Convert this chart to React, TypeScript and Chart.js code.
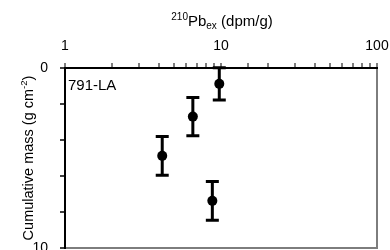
import React, { useEffect, useRef } from 'react';
import { Chart, registerables } from 'chart.js';

Chart.register(...registerables);

// ---- data ----
const pbEx = [9.75, 6.6, 4.2, 8.8];          // 210Pb_ex (dpm/g)
const cumMass = [0.88, 2.7, 4.88, 7.38];     // cumulative mass (g cm^-2)
const massErr = [0.9, 1.06, 1.08, 1.08];     // +/- error on cumulative mass
const xTickLabels = [1, 10, 100];
const yTickLabels = [0, 10];
const sampleLabel = '791-LA';

const FONT = "'Liberation Sans', Arial, sans-serif";

type Seg = { t: string; size: number; dy: number };

function drawSegs(ctx: CanvasRenderingContext2D, segs: Seg[], cx: number, cy: number) {
  let total = 0;
  const widths: number[] = [];
  segs.forEach((s) => {
    ctx.font = `${s.size}px ${FONT}`;
    const w = ctx.measureText(s.t).width;
    widths.push(w);
    total += w;
  });
  let x = cx - total / 2;
  ctx.textAlign = 'left';
  ctx.textBaseline = 'middle';
  segs.forEach((s, i) => {
    ctx.font = `${s.size}px ${FONT}`;
    ctx.fillText(s.t, x, cy + s.dy);
    x += widths[i];
  });
}

// frame + tick marks, positioned through the chart's own scales
const framePlugin = {
  id: 'frame',
  afterDraw(chart: any) {
    const { ctx, chartArea: a } = chart;
    const xs = chart.scales.x;
    const ys = chart.scales.y;
    const L = Math.round(a.left);
    const R = Math.round(a.right);
    const T = Math.round(a.top);
    const B = Math.round(a.bottom);
    ctx.save();
    // grey right / bottom sides
    ctx.fillStyle = '#7d7d7d';
    ctx.fillRect(R - 1, T, 2, B - T + 1);
    ctx.fillRect(L, B - 1, R - L + 1, 2);
    // black top / left axes
    ctx.fillStyle = '#000';
    ctx.fillRect(L - 1, T - 1, R - L + 2, 2);
    ctx.fillRect(L - 1, T - 1, 2, B - T + 2);
    // x tick marks (upward)
    xs.ticks.forEach((t: any) => {
      const px = Math.round(xs.getPixelForValue(t.value));
      ctx.fillRect(px - 0.5, T - 5, 1, 5);
    });
    // y tick marks (leftward)
    ys.ticks.forEach((t: any) => {
      const py = Math.round(ys.getPixelForValue(t.value));
      ctx.fillRect(L - 5, py - 0.75, 5, 1.5);
    });
    ctx.restore();
  },
};

const errorBarPlugin = {
  id: 'errorBars',
  beforeDatasetsDraw(chart: any) {
    const { ctx, chartArea: a } = chart;
    const xs = chart.scales.x;
    const ys = chart.scales.y;
    ctx.save();
    // sample label
    ctx.fillStyle = '#000';
    ctx.font = `15px ${FONT}`;
    ctx.textAlign = 'left';
    ctx.textBaseline = 'middle';
    ctx.fillText(sampleLabel, a.left + 3, a.top + 18);
    ctx.strokeStyle = '#000';
    ctx.lineWidth = 3;
    pbEx.forEach((v, i) => {
      const px = xs.getPixelForValue(v);
      const top = ys.getPixelForValue(cumMass[i] - massErr[i]);
      const bot = ys.getPixelForValue(cumMass[i] + massErr[i]);
      ctx.beginPath();
      ctx.moveTo(px, top);
      ctx.lineTo(px, bot);
      ctx.moveTo(px - 6.5, top);
      ctx.lineTo(px + 6.5, top);
      ctx.moveTo(px - 6.5, bot);
      ctx.lineTo(px + 6.5, bot);
      ctx.stroke();
    });
    ctx.restore();
  },
};

const titlePlugin = {
  id: 'titles',
  afterDraw(chart: any) {
    const { ctx, chartArea: a } = chart;
    ctx.save();
    ctx.fillStyle = '#000';
    drawSegs(
      ctx,
      [
        { t: '210', size: 10, dy: -5 },
        { t: 'Pb', size: 15, dy: 0 },
        { t: 'ex', size: 10, dy: 4 },
        { t: ' (dpm/g)', size: 15, dy: 0 },
      ],
      (a.left + a.right) / 2 + 1,
      22
    );
    ctx.translate(29, (a.top + a.bottom) / 2);
    ctx.rotate(-Math.PI / 2);
    drawSegs(
      ctx,
      [
        { t: 'Cumulative mass (g cm', size: 14.5, dy: 0 },
        { t: '-2', size: 9.5, dy: -5 },
        { t: ')', size: 14.5, dy: 0 },
      ],
      0,
      0
    );
    ctx.restore();
  },
};

export default function App() {
  const ref = useRef<HTMLCanvasElement | null>(null);

  useEffect(() => {
    if (!ref.current) return;
    const chart = new Chart(ref.current, {
      type: 'scatter',
      data: {
        datasets: [
          {
            data: pbEx.map((x, i) => ({ x, y: cumMass[i] })),
            pointStyle: 'circle',
            pointRadius: 5,
            pointBackgroundColor: '#000',
            pointBorderWidth: 0,
            showLine: false,
          },
        ],
      },
      options: {
        responsive: false,
        animation: false,
        devicePixelRatio: 1,
        layout: { padding: { top: 0, left: 0, right: 13, bottom: 22 } },
        plugins: {
          legend: { display: false },
          tooltip: { enabled: false },
          title: { display: false },
        },
        scales: {
          x: {
            type: 'logarithmic',
            position: 'top',
            min: 1,
            max: 100,
            border: { display: false },
            grid: { display: false },
            ticks: {
              autoSkip: false,
              maxRotation: 0,
              padding: 5,
              color: '#000',
              font: { family: FONT, size: 14 },
              callback: (v: any) => (xTickLabels.includes(Number(v)) ? String(Number(v)) : ''),
            },
            afterFit: (s: any) => {
              s.height = 68;
              s.paddingLeft = 0;
              s.paddingRight = 0;
            },
          },
          y: {
            type: 'linear',
            reverse: true,
            min: 0,
            max: 10,
            border: { display: false },
            grid: { display: false },
            ticks: {
              stepSize: 2,
              padding: 9,
              color: '#000',
              font: { family: FONT, size: 14 },
              callback: (v: any) => (yTickLabels.includes(Number(v)) ? String(v) : ''),
            },
            afterFit: (s: any) => {
              s.width = 65;
            },
          },
        },
      },
      plugins: [errorBarPlugin, framePlugin, titlePlugin],
    });
    return () => chart.destroy();
  }, []);

  return (
    <div
      style={{
        position: 'absolute',
        left: 0,
        top: 0,
        width: 390,
        height: 250,
        overflow: 'hidden',
        background: '#fff',
      }}
    >
      <canvas ref={ref} width={390} height={270} style={{ display: 'block' }} />
    </div>
  );
}
